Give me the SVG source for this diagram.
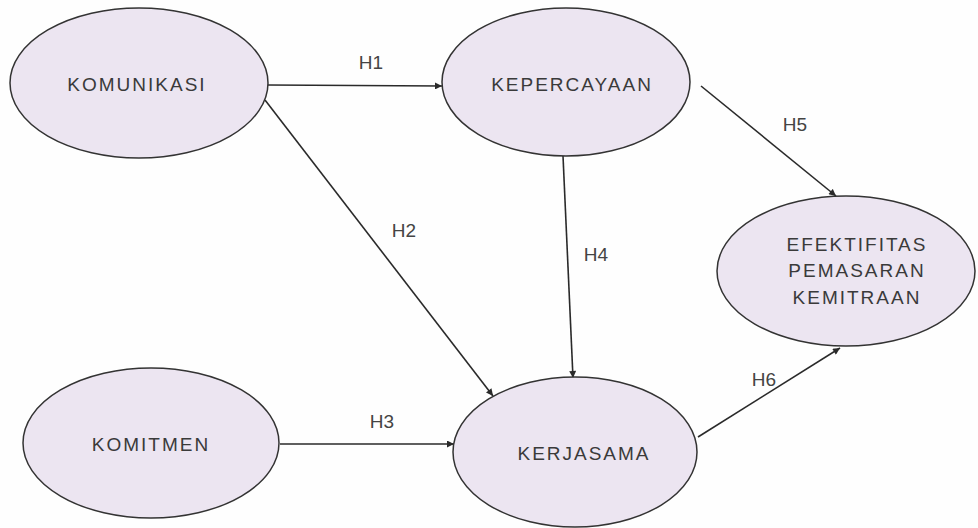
<svg xmlns="http://www.w3.org/2000/svg" width="978" height="528" viewBox="0 0 978 528">
<style>
.node ellipse{fill:#ece5f1;stroke:#333;stroke-width:1.5}
.node text{font-family:"Liberation Sans",Arial,sans-serif;font-size:19px;letter-spacing:2px;fill:#3a3a3a;text-anchor:middle}
.edge line{stroke:#2a2a2a;stroke-width:1.6;marker-end:url(#arr)}
.lbl{font-family:"Liberation Sans",Arial,sans-serif;font-size:19px;fill:#444;text-anchor:middle}
</style>
<defs>
<marker id="arr" viewBox="0 0 10 10" refX="10" refY="5" markerWidth="9" markerHeight="7" markerUnits="userSpaceOnUse" orient="auto">
<path d="M0,0 L10,5 L0,10 z" fill="#2a2a2a"/>
</marker>
</defs>
<rect width="978" height="528" fill="#fefefe"/>
<g id="connectors" class="edge">
<line x1="268" y1="85" x2="442" y2="86"/>
<line x1="265" y1="100" x2="493" y2="396"/>
<line x1="280" y1="444" x2="454" y2="444"/>
<line x1="563" y1="156" x2="573" y2="378"/>
<line x1="701" y1="86" x2="836" y2="196"/>
<line x1="698" y1="437" x2="840" y2="348"/>
</g>
<g id="labels">
<text class="lbl" x="371" y="69">H1</text>
<text class="lbl" x="404" y="237">H2</text>
<text class="lbl" x="382" y="428">H3</text>
<text class="lbl" x="596" y="261">H4</text>
<text class="lbl" x="795" y="131">H5</text>
<text class="lbl" x="764" y="386">H6</text>
</g>
<g id="komunikasi" class="node">
<ellipse cx="139" cy="83" rx="129" ry="75"/>
<text x="137" y="91">KOMUNIKASI</text>
</g>
<g id="kepercayaan" class="node">
<ellipse cx="566" cy="82" rx="124" ry="74"/>
<text x="572" y="91">KEPERCAYAAN</text>
</g>
<g id="efektifitas" class="node">
<ellipse cx="846" cy="271" rx="129" ry="75"/>
<text x="857" y="251">EFEKTIFITAS</text>
<text x="857" y="277">PEMASARAN</text>
<text x="857" y="304">KEMITRAAN</text>
</g>
<g id="komitmen" class="node">
<ellipse cx="151" cy="443" rx="128" ry="75"/>
<text x="151" y="451">KOMITMEN</text>
</g>
<g id="kerjasama" class="node">
<ellipse cx="575" cy="452" rx="122" ry="75"/>
<text x="584" y="460">KERJASAMA</text>
</g>
</svg>
